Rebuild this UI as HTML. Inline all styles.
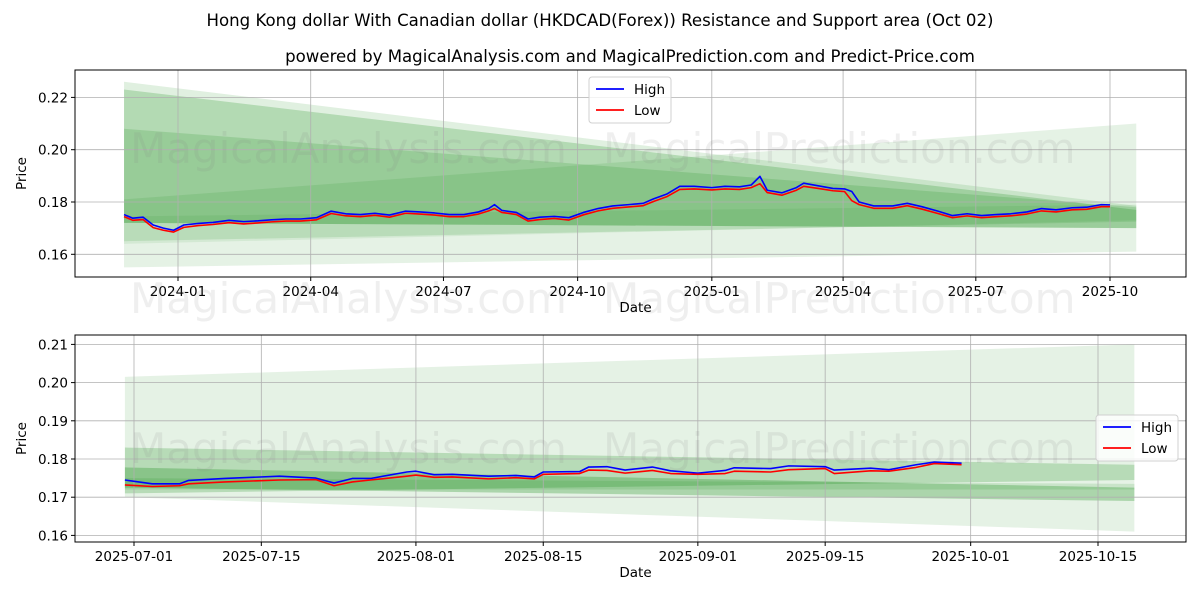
<!DOCTYPE html>
<html><head><meta charset="utf-8"><style>
body{margin:0;background:#fff;}
svg{display:block;font-family:"DejaVu Sans","Liberation Sans",sans-serif;}
</style></head><body>
<svg id="c" width="1200" height="600" xmlns="http://www.w3.org/2000/svg">
<rect width="1200" height="600" fill="#fff"/>
<text x="600" y="26" text-anchor="middle" font-size="16.6">Hong Kong dollar With Canadian dollar (HKDCAD(Forex)) Resistance and Support area (Oct 02)</text>
<text x="630" y="62" text-anchor="middle" font-size="16.6">powered by MagicalAnalysis.com and MagicalPrediction.com and Predict-Price.com</text>
<g id="top"></g>
<g id="bot"></g>
</svg>
<script>
// ---- top chart data ----
const topDates=["2023-11-25","2023-12-01","2023-12-08","2023-12-15","2023-12-22","2023-12-29","2024-01-05","2024-01-15","2024-01-25","2024-02-05","2024-02-15","2024-02-25","2024-03-05","2024-03-15","2024-03-25","2024-04-05","2024-04-15","2024-04-25","2024-05-05","2024-05-15","2024-05-25","2024-06-05","2024-06-15","2024-06-25","2024-07-05","2024-07-15","2024-07-25","2024-08-01","2024-08-05","2024-08-10","2024-08-20","2024-08-28","2024-09-05","2024-09-15","2024-09-25","2024-10-05","2024-10-15","2024-10-25","2024-11-05","2024-11-15","2024-11-22","2024-12-01","2024-12-10","2024-12-20","2025-01-01","2025-01-10","2025-01-20","2025-01-28","2025-02-03","2025-02-08","2025-02-18","2025-02-28","2025-03-05","2025-03-15","2025-03-25","2025-04-02","2025-04-07","2025-04-12","2025-04-22","2025-05-05","2025-05-15","2025-05-25","2025-06-05","2025-06-15","2025-06-25","2025-07-05","2025-07-15","2025-07-25","2025-08-05","2025-08-15","2025-08-25","2025-09-05","2025-09-15","2025-09-25","2025-10-01"];
const topHigh=[0.1752,0.1738,0.1742,0.1712,0.1700,0.1692,0.1712,0.1718,0.1722,0.1730,0.1725,0.1728,0.1732,0.1735,0.1735,0.1740,0.1765,0.1755,0.1752,0.1757,0.1750,0.1765,0.1762,0.1758,0.1752,0.1752,0.1762,0.1775,0.1790,0.1768,0.1760,0.1735,0.1742,0.1745,0.1740,0.1760,0.1775,0.1785,0.1790,0.1795,0.1812,0.1830,0.1860,0.1860,0.1855,0.1860,0.1858,0.1865,0.1898,0.1845,0.1835,0.1855,0.1872,0.1862,0.1852,0.1850,0.1840,0.1800,0.1785,0.1785,0.1795,0.1782,0.1765,0.1748,0.1755,0.1748,0.1752,0.1755,0.1762,0.1775,0.1770,0.1778,0.1780,0.1790,0.1789];
const topLow=[0.1744,0.1730,0.1733,0.1702,0.1692,0.1685,0.1703,0.1710,0.1714,0.1721,0.1716,0.1720,0.1724,0.1727,0.1727,0.1732,0.1756,0.1747,0.1744,0.1749,0.1742,0.1757,0.1754,0.1750,0.1744,0.1744,0.1754,0.1766,0.1775,0.1760,0.1752,0.1727,0.1733,0.1737,0.1731,0.1751,0.1766,0.1776,0.1781,0.1786,0.1802,0.1820,0.1848,0.1850,0.1846,0.1850,0.1848,0.1855,0.1870,0.1836,0.1826,0.1845,0.1860,0.1852,0.1843,0.1840,0.1805,0.1790,0.1776,0.1776,0.1786,0.1773,0.1756,0.1740,0.1747,0.1740,0.1744,0.1747,0.1754,0.1766,0.1762,0.1770,0.1772,0.1782,0.1782];
const topYTicks=[0.16,0.18,0.20,0.22];
const topXTicks=["2024-01","2024-04","2024-07","2024-10","2025-01","2025-04","2025-07","2025-10"];
// bands: [startTop,startBottom,endTop,endBottom], opacity
const topBands=[[0.226,0.165,0.1785,0.1725,0.12],[0.223,0.172,0.177,0.170,0.2],[0.208,0.172,0.178,0.170,0.15],[0.181,0.155,0.210,0.161,0.1],[0.1745,0.164,0.1790,0.173,0.08]];
const bandStart="2023-11-25",bandEnd="2025-10-19";
// ---- bottom chart data ----
const botDates=["2025-06-30","2025-07-03","2025-07-06","2025-07-07","2025-07-11","2025-07-17","2025-07-21","2025-07-23","2025-07-25","2025-07-27","2025-07-31","2025-08-01","2025-08-03","2025-08-05","2025-08-09","2025-08-12","2025-08-14","2025-08-15","2025-08-19","2025-08-20","2025-08-22","2025-08-24","2025-08-27","2025-08-29","2025-09-01","2025-09-04","2025-09-05","2025-09-09","2025-09-11","2025-09-15","2025-09-16","2025-09-20","2025-09-22","2025-09-25","2025-09-27","2025-09-30"];
const botHigh=[0.1745,0.1735,0.1735,0.1744,0.1749,0.1755,0.1750,0.1737,0.1749,0.1749,0.1766,0.1768,0.1759,0.1760,0.1755,0.1757,0.1753,0.1766,0.1767,0.1779,0.1780,0.1771,0.1779,0.1769,0.1763,0.1770,0.1777,0.1775,0.1782,0.1780,0.1771,0.1776,0.1772,0.1785,0.1792,0.1789];
const botLow=[0.1732,0.1728,0.1730,0.1735,0.1740,0.1745,0.1746,0.1730,0.1740,0.1745,0.1755,0.1758,0.1752,0.1753,0.1748,0.1751,0.1748,0.1760,0.1762,0.1771,0.1770,0.1763,0.1770,0.1762,0.1760,0.1762,0.1768,0.1766,0.1772,0.1775,0.1762,0.1769,0.1768,0.1778,0.1788,0.1785];
const botYTicks=[0.16,0.17,0.18,0.19,0.20,0.21];
const botXTicks=["2025-07-01","2025-07-15","2025-08-01","2025-08-15","2025-09-01","2025-09-15","2025-10-01","2025-10-15"];
const botBands=[[0.2015,0.170,0.210,0.161,0.1],[0.183,0.171,0.1785,0.1745,0.2],[0.1778,0.1725,0.1725,0.169,0.25],[0.1750,0.1720,0.1735,0.1720,0.12]];
const botBandStart="2025-06-30";

const NS="http://www.w3.org/2000/svg";
function mk(tag,attrs,parent){const e=document.createElementNS(NS,tag);for(const k in attrs)e.setAttribute(k,attrs[k]);parent.appendChild(e);return e;}
function dnum(s){if(s.length===7)s+="-01";return Date.parse(s+"T00:00:00Z")/86400000;}

function panel(g,cfg){
  const {L,R,T,B,x,y}=cfg;
  mk('rect',{x:L,y:T,width:R-L,height:B-T,fill:'#fff'},g);
  cfg.bands.forEach(b=>{
    const x0=x(dnum(cfg.bs)),x1=x(dnum(bandEnd));
    const p=mk('polygon',{points:`${x0},${y(b[0])} ${x1},${y(b[2])} ${x1},${y(b[3])} ${x0},${y(b[1])}`,fill:'#008000','fill-opacity':b[4]},g);
    
    
  });
  cfg.yt.forEach(v=>{
    mk('line',{x1:L,x2:R,y1:y(v),y2:y(v),stroke:'#b0b0b0','stroke-width':0.8},g);
    mk('line',{x1:L-4,x2:L,y1:y(v),y2:y(v),stroke:'#000'},g);
    const t=mk('text',{x:L-7,y:y(v)+5,'text-anchor':'end','font-size':13.5},g);t.textContent=v.toFixed(2);
    
    
  });
  cfg.xt.forEach(s=>{
    const xx=x(dnum(s));
    mk('line',{x1:xx,x2:xx,y1:T,y2:B,stroke:'#b0b0b0','stroke-width':0.8},g);
    mk('line',{x1:xx,x2:xx,y1:B,y2:B+4,stroke:'#000'},g);
    const t=mk('text',{x:xx,y:B+19,'text-anchor':'middle','font-size':13.5},g);t.textContent=s;
    
    
  });
  cfg.wm.forEach(w=>{const t=mk('text',{x:w[0],y:w[1],'font-size':42,fill:'#808080','fill-opacity':0.13},g);t.textContent=w[2];
    
    });
  const line=(arr,col,name)=>{const pts=cfg.dates.map((d,i)=>x(dnum(d))+','+y(arr[i])).join(' ');
    const p=mk('polyline',{points:pts,fill:'none',stroke:col,'stroke-width':1.6,'stroke-linejoin':'round'},g);
    
    };
  line(cfg.high,'#0000ff','high-line');line(cfg.low,'#ff0000','low-line');
  mk('rect',{x:L,y:T,width:R-L,height:B-T,fill:'none',stroke:'#000','stroke-width':1},g);
  const xl=mk('text',{x:(L+R)/2+5,y:B+35,'text-anchor':'middle','font-size':13.5},g);xl.textContent='Date';
  
  
  const yl=mk('text',{x:0,y:0,'text-anchor':'middle','font-size':13.5,transform:`translate(26,${(T+B)/2}) rotate(-90)`},g);yl.textContent='Price';
  
  
  const [lx,ly]=cfg.leg;
  const lg=mk('g',{},g);
  
  
  mk('rect',{x:lx,y:ly,width:82,height:46,rx:3,fill:'#fff','fill-opacity':0.8,stroke:'#d0d0d0'},lg);
  [['High','#0000ff'],['Low','#ff0000']].forEach((e,i)=>{
    mk('line',{x1:lx+7,x2:lx+35,y1:ly+12+i*21,y2:ly+12+i*21,stroke:e[1],'stroke-width':1.8},lg);
    const t=mk('text',{x:lx+45,y:ly+17+i*21,'font-size':13.5},lg);t.textContent=e[0];
    
    
  });
}
const tx0=dnum("2024-01-01");
panel(document.getElementById('top'),{L:75,R:1186,T:70,B:277,
  x:d=>178+(d-tx0)*(932/639), y:v=>202-(v-0.18)*2615,
  bands:topBands,bs:bandStart,yt:topYTicks,xt:topXTicks,dates:topDates,high:topHigh,low:topLow,
  wm:[[130,163,'MagicalAnalysis.com'],[603,163,'MagicalPrediction.com'],[130,313,'MagicalAnalysis.com'],[603,313,'MagicalPrediction.com']],leg:[589,77]});
const bx0=dnum("2025-07-01");
panel(document.getElementById('bot'),{L:75,R:1186,T:335,B:542,
  x:d=>134+(d-bx0)*(964/106), y:v=>459-(v-0.18)*3820,
  bands:botBands,bs:botBandStart,yt:botYTicks,xt:botXTicks,dates:botDates,high:botHigh,low:botLow,
  wm:[[130,463,'MagicalAnalysis.com'],[603,463,'MagicalPrediction.com']],leg:[1096,415]});
</script>
</body></html>
